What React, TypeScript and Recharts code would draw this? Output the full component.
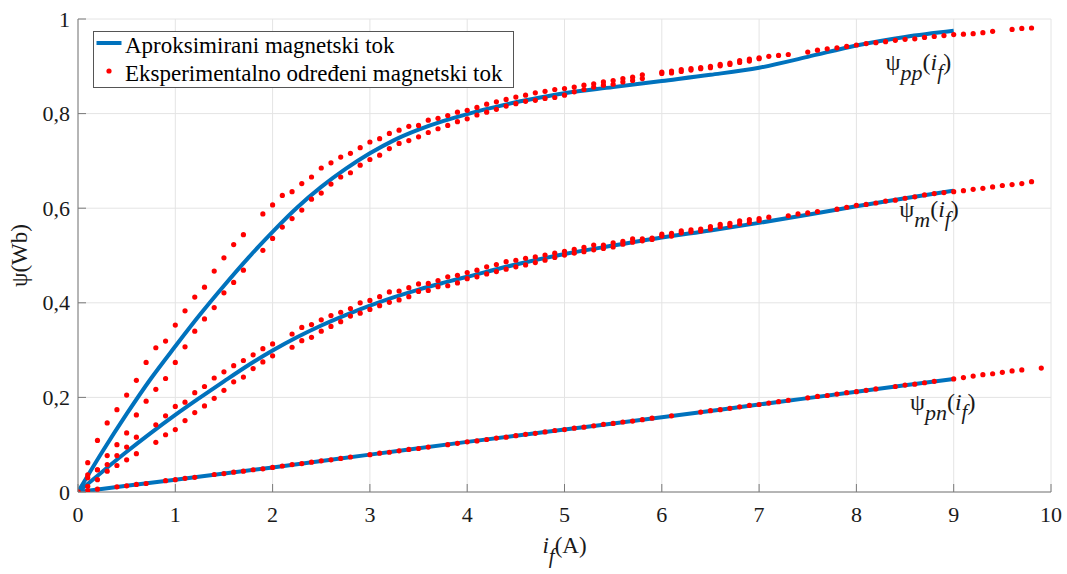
import React from 'react';
import { ComposedChart, Line, Scatter, XAxis, YAxis, CartesianGrid, Legend, ReferenceDot } from 'recharts';

type Pt = [number, number];

const xTicks = [0, 1, 2, 3, 4, 5, 6, 7, 8, 9, 10];
const yTicks = [0, 0.2, 0.4, 0.6, 0.8, 1];
const yTickLabels = ['0', '0,2', '0,4', '0,6', '0,8', '1'];
const legendLabels = ['Aproksimirani magnetski tok', 'Eksperimentalno određeni magnetski tok'];

// Approximated (fitted) flux curves
const psiPpLine: Pt[] = [
  [0, 0], [0.25, 0.085], [0.5, 0.165], [0.75, 0.240], [1.0, 0.308], [1.25, 0.374], [1.5, 0.436],
  [1.75, 0.495], [2.0, 0.550], [2.25, 0.601], [2.5, 0.645], [2.75, 0.683], [3.0, 0.716],
  [3.25, 0.744], [3.5, 0.766], [3.75, 0.784], [4.0, 0.799], [4.25, 0.812], [4.5, 0.824],
  [4.75, 0.834], [5.0, 0.843], [5.5, 0.856], [6.0, 0.869], [6.5, 0.882], [7.0, 0.897],
  [7.5, 0.920], [8.0, 0.944], [8.5, 0.962], [9.0, 0.975],
];
const psiMLine: Pt[] = [
  [0, 0], [0.25, 0.043], [0.5, 0.085], [0.75, 0.125], [1.0, 0.163], [1.25, 0.199], [1.5, 0.234],
  [1.75, 0.268], [2.0, 0.299], [2.25, 0.327], [2.5, 0.352], [2.75, 0.374], [3.0, 0.394],
  [3.25, 0.412], [3.5, 0.428], [3.75, 0.442], [4.0, 0.455], [4.5, 0.481], [5.0, 0.503],
  [5.5, 0.521], [6.0, 0.538], [6.5, 0.553], [7.0, 0.569], [7.5, 0.586], [8.0, 0.604],
  [8.5, 0.621], [9.0, 0.637],
];
const psiPnLine: Pt[] = [
  [0, 0], [1, 0.026], [2, 0.052], [3, 0.079], [4, 0.106], [5, 0.132], [6, 0.158], [7, 0.185],
  [8, 0.212], [9, 0.239],
];

// Experimentally determined flux (two branches where they separate)
const psiPpUpper: Pt[] = [
  [0, 0], [0.1, 0.062], [0.2, 0.109], [0.3, 0.146], [0.4, 0.174], [0.5, 0.205], [0.6, 0.236],
  [0.7, 0.274], [0.8, 0.305], [0.9, 0.319], [1.0, 0.353], [1.1, 0.383], [1.2, 0.412], [1.3, 0.433],
  [1.4, 0.467], [1.5, 0.495], [1.6, 0.523], [1.7, 0.544], [1.9, 0.588], [2.0, 0.607], [2.1, 0.627],
  [2.2, 0.635], [2.3, 0.652], [2.4, 0.666], [2.5, 0.685], [2.6, 0.696], [2.7, 0.708], [2.8, 0.716],
  [2.9, 0.728], [3.0, 0.740], [3.1, 0.747], [3.2, 0.758], [3.3, 0.765], [3.4, 0.773], [3.5, 0.775],
  [3.6, 0.786], [3.7, 0.790], [3.8, 0.796], [3.9, 0.803], [4.0, 0.807], [4.1, 0.813], [4.2, 0.820],
  [4.3, 0.825], [4.4, 0.830], [4.5, 0.835], [4.6, 0.839], [4.7, 0.844], [4.8, 0.847], [4.9, 0.851],
  [5.0, 0.853], [5.1, 0.856], [5.2, 0.860], [5.3, 0.863], [5.4, 0.867], [5.5, 0.870], [5.6, 0.874],
  [5.7, 0.877], [5.8, 0.882], [6.0, 0.888], [6.1, 0.890], [6.2, 0.893], [6.3, 0.895], [6.4, 0.897],
  [6.5, 0.900], [6.6, 0.904], [6.7, 0.907], [6.8, 0.912], [6.9, 0.915], [7.0, 0.918], [7.1, 0.921],
  [7.2, 0.923], [7.3, 0.925], [7.5, 0.930], [7.6, 0.934], [7.7, 0.937], [7.8, 0.939], [7.9, 0.942],
  [8.0, 0.945], [8.1, 0.948], [8.2, 0.950], [8.3, 0.952], [8.4, 0.955], [8.5, 0.957], [8.6, 0.958],
  [8.7, 0.961], [8.8, 0.963], [8.9, 0.965], [9.0, 0.967], [9.1, 0.968], [9.2, 0.969], [9.3, 0.971],
  [9.4, 0.974], [9.6, 0.978], [9.7, 0.980], [9.8, 0.981],
];
const psiPpLower: Pt[] = [
  [0, 0], [0.1, 0.036], [0.2, 0.047], [0.3, 0.077], [0.4, 0.100], [0.5, 0.125], [0.6, 0.163],
  [0.7, 0.192], [0.8, 0.217], [0.9, 0.240], [1.0, 0.274], [1.1, 0.307], [1.2, 0.340], [1.3, 0.366],
  [1.4, 0.390], [1.5, 0.421], [1.6, 0.443], [1.7, 0.469], [1.9, 0.511], [2.0, 0.536], [2.1, 0.560],
  [2.2, 0.578], [2.3, 0.596], [2.4, 0.619], [2.5, 0.632], [2.6, 0.651], [2.7, 0.666], [2.8, 0.675],
  [2.9, 0.691], [3.0, 0.703], [3.1, 0.712], [3.2, 0.726], [3.3, 0.737], [3.4, 0.743], [3.5, 0.751],
  [3.6, 0.760], [3.7, 0.768], [3.8, 0.775], [3.9, 0.783], [4.0, 0.789], [4.1, 0.797], [4.2, 0.803],
  [4.3, 0.809], [4.4, 0.816], [4.5, 0.821], [4.6, 0.826], [4.7, 0.828], [4.8, 0.832], [4.9, 0.834],
  [5.0, 0.839], [5.1, 0.846], [5.2, 0.851], [5.3, 0.856], [5.4, 0.860], [5.5, 0.862], [5.6, 0.867],
  [5.7, 0.870], [5.8, 0.874], [6.0, 0.885], [6.1, 0.886], [6.2, 0.889], [6.3, 0.892], [6.4, 0.895],
  [6.5, 0.897], [6.6, 0.901], [6.7, 0.904], [6.8, 0.908], [6.9, 0.911], [7.0, 0.916],
];
const psiMUpper: Pt[] = [
  [0, 0], [0.1, 0.030], [0.2, 0.047], [0.3, 0.058], [0.4, 0.077], [0.5, 0.095], [0.6, 0.116],
  [0.8, 0.142], [0.9, 0.161], [1.0, 0.181], [1.1, 0.190], [1.2, 0.210], [1.3, 0.223], [1.4, 0.241],
  [1.5, 0.254], [1.6, 0.267], [1.7, 0.278], [1.8, 0.290], [1.9, 0.303], [2.0, 0.313], [2.2, 0.334],
  [2.3, 0.348], [2.4, 0.354], [2.5, 0.364], [2.6, 0.373], [2.7, 0.380], [2.8, 0.388], [2.9, 0.400],
  [3.0, 0.405], [3.1, 0.413], [3.2, 0.423], [3.3, 0.425], [3.4, 0.432], [3.5, 0.440], [3.6, 0.441],
  [3.7, 0.447], [3.8, 0.455], [3.9, 0.458], [4.0, 0.464], [4.1, 0.469], [4.2, 0.476], [4.3, 0.481],
  [4.4, 0.487], [4.5, 0.490], [4.6, 0.494], [4.7, 0.497], [4.8, 0.501], [4.9, 0.505], [5.0, 0.509],
  [5.1, 0.513], [5.2, 0.517], [5.3, 0.522], [5.4, 0.522], [5.5, 0.527], [5.6, 0.530], [5.7, 0.535],
  [5.8, 0.535], [5.9, 0.537], [6.0, 0.545], [6.1, 0.547], [6.2, 0.552], [6.3, 0.554], [6.4, 0.556],
  [6.5, 0.561], [6.6, 0.566], [6.7, 0.568], [6.8, 0.573], [6.9, 0.576], [7.0, 0.578], [7.1, 0.581],
  [7.3, 0.584], [7.4, 0.588], [7.5, 0.590], [7.6, 0.593], [7.8, 0.598], [7.9, 0.602], [8.0, 0.606],
  [8.1, 0.608], [8.2, 0.611], [8.3, 0.615], [8.4, 0.617], [8.5, 0.621], [8.6, 0.624], [8.7, 0.628],
  [8.8, 0.631], [8.9, 0.633], [9.0, 0.635], [9.1, 0.637], [9.2, 0.640], [9.3, 0.642], [9.4, 0.645],
  [9.5, 0.648], [9.6, 0.650], [9.7, 0.652], [9.8, 0.656],
];
const psiMLower: Pt[] = [
  [0, 0], [0.1, 0.012], [0.2, 0.026], [0.3, 0.044], [0.4, 0.056], [0.5, 0.068], [0.6, 0.081],
  [0.8, 0.105], [0.9, 0.121], [1.0, 0.132], [1.1, 0.151], [1.2, 0.168], [1.3, 0.182], [1.4, 0.198],
  [1.5, 0.215], [1.6, 0.233], [1.7, 0.243], [1.8, 0.261], [1.9, 0.275], [2.0, 0.288], [2.2, 0.306],
  [2.3, 0.320], [2.4, 0.327], [2.5, 0.340], [2.6, 0.350], [2.7, 0.360], [2.8, 0.372], [2.9, 0.378],
  [3.0, 0.386], [3.1, 0.394], [3.2, 0.401], [3.3, 0.406], [3.4, 0.413], [3.5, 0.424], [3.6, 0.426],
  [3.7, 0.434], [3.8, 0.436], [3.9, 0.442], [4.0, 0.451], [4.1, 0.455], [4.2, 0.461], [4.3, 0.466],
  [4.4, 0.471], [4.5, 0.476], [4.6, 0.480], [4.7, 0.485], [4.8, 0.490], [4.9, 0.496], [5.0, 0.501],
  [5.1, 0.505], [5.2, 0.508], [5.3, 0.512], [5.4, 0.515], [5.5, 0.518], [5.6, 0.524], [5.7, 0.528],
  [5.8, 0.531], [5.9, 0.534], [6.0, 0.541], [6.1, 0.541], [6.2, 0.548], [6.3, 0.550], [6.4, 0.552],
  [6.5, 0.556], [6.6, 0.561], [6.7, 0.563], [6.8, 0.567], [6.9, 0.570], [7.0, 0.574],
];
const psiPnPoints: Pt[] = [
  [0, 0], [0.1, 0.003], [0.2, 0.006], [0.4, 0.011], [0.5, 0.013], [0.6, 0.016], [0.7, 0.018],
  [0.9, 0.024], [1.0, 0.026], [1.1, 0.029], [1.2, 0.031], [1.4, 0.037], [1.5, 0.039], [1.6, 0.042],
  [1.7, 0.044], [1.8, 0.047], [1.9, 0.049], [2.0, 0.052], [2.1, 0.055], [2.2, 0.058], [2.3, 0.060],
  [2.4, 0.063], [2.5, 0.066], [2.6, 0.068], [2.7, 0.071], [2.8, 0.074], [3.0, 0.079], [3.1, 0.082],
  [3.2, 0.084], [3.3, 0.087], [3.4, 0.090], [3.5, 0.092], [3.6, 0.095], [3.8, 0.100], [3.9, 0.103],
  [4.0, 0.106], [4.1, 0.108], [4.2, 0.111], [4.3, 0.114], [4.4, 0.116], [4.5, 0.119], [4.6, 0.122],
  [4.7, 0.124], [4.8, 0.127], [4.9, 0.130], [5.0, 0.132], [5.1, 0.135], [5.2, 0.137], [5.3, 0.140],
  [5.4, 0.143], [5.5, 0.145], [5.6, 0.148], [5.7, 0.150], [5.8, 0.153], [5.9, 0.156], [6.1, 0.161],
  [6.4, 0.169], [6.5, 0.172], [6.6, 0.174], [6.7, 0.177], [6.8, 0.180], [6.9, 0.183], [7.0, 0.185],
  [7.1, 0.188], [7.2, 0.191], [7.3, 0.194], [7.5, 0.199], [7.6, 0.202], [7.7, 0.204], [7.8, 0.207],
  [7.9, 0.210], [8.0, 0.212], [8.1, 0.215], [8.2, 0.218], [8.4, 0.223], [8.5, 0.226], [8.6, 0.228],
  [8.7, 0.231], [8.8, 0.234], [9.0, 0.239], [9.1, 0.242], [9.2, 0.245], [9.3, 0.248], [9.4, 0.250],
  [9.5, 0.253], [9.6, 0.256], [9.7, 0.258], [9.9, 0.262],
];

const annotationSubs = ['pp', 'm', 'pn'];
const annotationAnchors: Pt[] = [[8.3, 0.893], [8.44, 0.581], [8.55, 0.174]];

const BLUE = '#0072BD';
const RED = '#FF0000';
const AXIS = '#7a7a7a';
const GRID = '#e4e4e4';
const TXT = '#1a1a1a';
const FONT = 'Liberation Serif, Times New Roman, DejaVu Serif, serif';
const fontStyle = { fontFamily: FONT };

const toPts = (a: Pt[]) => a.map(([x, y]) => ({ x, y }));

const XTick = (props: any) => {
  const { x, y, payload } = props;
  return (
    <g>
      <line x1={x} x2={x} y1={y} y2={y - 8} stroke={AXIS} />
      <text x={x} y={y + 30} textAnchor="middle" style={fontStyle} fontSize={22} fill={TXT}>
        {payload.value}
      </text>
    </g>
  );
};
const TopTick = (props: any) => {
  const { x, y } = props;
  return <line x1={x} x2={x} y1={y} y2={y + 8} stroke={AXIS} />;
};
const YTick = (props: any) => {
  const { x, y, index } = props;
  return (
    <g>
      <line x1={x} x2={x + 8} y1={y} y2={y} stroke={AXIS} />
      <text x={x - 8} y={y + 7.5} textAnchor="end" style={fontStyle} fontSize={22} fill={TXT}>
        {yTickLabels[index]}
      </text>
    </g>
  );
};
const RightTick = (props: any) => {
  const { x, y } = props;
  return <line x1={x} x2={x - 8} y1={y} y2={y} stroke={AXIS} />;
};

const XLabel = (props: any) => {
  const vb = props.viewBox;
  return (
    <text x={vb.x + vb.width / 2} y={vb.y + 61} textAnchor="middle" style={fontStyle} fontSize={23} fill={TXT}>
      <tspan fontStyle="italic">i</tspan>
      <tspan fontStyle="italic" dy={10} fontSize={21}>f</tspan>
      <tspan dy={-10}>(A)</tspan>
    </text>
  );
};
const YLabel = (props: any) => {
  const vb = props.viewBox;
  const cx = vb.x + 20;
  const cy = vb.y + vb.height / 2;
  return (
    <text x={cx} y={cy + 7} transform={`rotate(-90, ${cx}, ${cy})`} textAnchor="middle" style={fontStyle} fontSize={23} fill={TXT}>
      ψ(Wb)
    </text>
  );
};

const Annot = (props: any) => {
  const { viewBox, sub } = props;
  const x = viewBox.x + (viewBox.width || 0) / 2;
  const y = viewBox.y + (viewBox.height || 0) / 2;
  return (
    <text x={x} y={y} style={fontStyle} fontSize={24} fill={TXT}>
      <tspan>ψ</tspan>
      <tspan fontStyle="italic" dy={10} fontSize={22}>{sub}</tspan>
      <tspan dy={-10}>(</tspan>
      <tspan fontStyle="italic">i</tspan>
      <tspan fontStyle="italic" dy={9} fontSize={21}>f</tspan>
      <tspan dy={-9}>)</tspan>
    </text>
  );
};

const RedDot = (props: any) => <circle cx={props.cx} cy={props.cy} r={2.6} fill={RED} />;

const LegendBox = () => (
  <svg width={421} height={57} style={{ display: 'block' }}>
    <rect x={0.5} y={0.5} width={420} height={56} fill="#fff" stroke="#555" strokeWidth={1} />
    <line x1={3.5} x2={28.5} y1={12} y2={12} stroke={BLUE} strokeWidth={4} />
    <text x={32} y={22} style={fontStyle} fontSize={23} fill="#000">{legendLabels[0]}</text>
    <circle cx={16} cy={40} r={2.6} fill={RED} />
    <text x={32} y={49.5} style={fontStyle} fontSize={23} fill="#000">{legendLabels[1]}</text>
  </svg>
);

const lineSeries = [psiPpLine, psiMLine, psiPnLine];
const pointSeries = [psiPpUpper, psiPpLower, psiMUpper, psiMLower, psiPnPoints];

export default function App() {
  return (
    <div style={{ position: 'absolute', left: 0, top: 0, width: 1067, height: 574, background: '#fff' }}>
      <ComposedChart width={1067} height={574} margin={{ top: 19, right: 16, bottom: 0, left: 0 }}>
        <CartesianGrid stroke={GRID} strokeWidth={1} />
        <XAxis
          type="number" dataKey="x" domain={[0, 10]} ticks={xTicks} interval={0} allowDataOverflow
          height={82} tickSize={0} tickMargin={0} tickLine={false} tick={XTick}
          axisLine={{ stroke: AXIS }} label={<XLabel />}
        />
        <XAxis
          xAxisId="top" orientation="top" type="number" dataKey="x" domain={[0, 10]} ticks={xTicks} interval={0}
          allowDataOverflow height={0} tickSize={0} tickMargin={0} tickLine={false} tick={TopTick}
          axisLine={{ stroke: AXIS }}
        />
        <YAxis
          type="number" dataKey="y" domain={[0, 1]} ticks={yTicks} interval={0} allowDataOverflow
          width={78} tickSize={0} tickMargin={0} tickLine={false} tick={YTick}
          axisLine={{ stroke: AXIS }} label={<YLabel />}
        />
        <YAxis
          yAxisId="right" orientation="right" type="number" dataKey="y" domain={[0, 1]} ticks={yTicks} interval={0}
          allowDataOverflow width={0} tickSize={0} tickMargin={0} tickLine={false} tick={RightTick}
          axisLine={{ stroke: AXIS }}
        />
        {lineSeries.map((s, i) => (
          <Line
            key={`l${i}`} data={toPts(s)} dataKey="y" type="monotone" stroke={BLUE} strokeWidth={4}
            dot={false} activeDot={false} isAnimationActive={false} legendType="none"
          />
        ))}
        {pointSeries.map((s, i) => (
          <Scatter key={`s${i}`} data={toPts(s)} dataKey="y" fill={RED} shape={RedDot} isAnimationActive={false} legendType="none" />
        ))}
        {annotationSubs.map((sub, i) => (
          <ReferenceDot
            key={`a${i}`} x={annotationAnchors[i][0]} y={annotationAnchors[i][1]} r={0}
            fill="none" stroke="none" label={<Annot sub={sub} />}
          />
        ))}
        <Legend
          layout="horizontal" verticalAlign="middle" align="center" content={<LegendBox />}
          wrapperStyle={{ left: 93, top: 31, width: 421, height: 57 }}
        />
      </ComposedChart>
    </div>
  );
}
